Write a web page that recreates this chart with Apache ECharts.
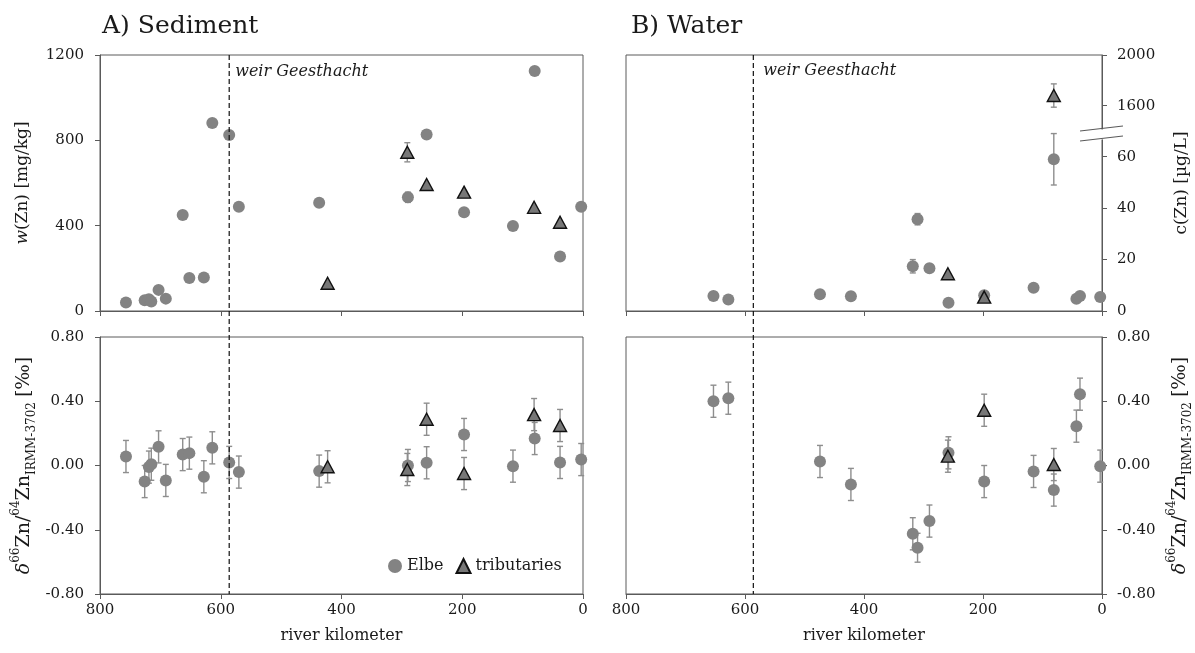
<!DOCTYPE html>
<html><head><meta charset="utf-8">
<script src="https://cdn.jsdelivr.net/npm/echarts@6/dist/echarts.min.js"></script>
<style>html,body{margin:0;padding:0;background:#fff}#c{width:1195px;height:653px}</style>
</head><body><div id="c"></div>
<script>
// ---------------- DATA ----------------
const weirKm = 586;
const weirLabel = 'weir Geesthacht';

// Sediment, Elbe (circles)
const sedElbeKm   = [757, 726, 719, 715, 703, 691, 663, 652, 628, 614, 586, 570, 437, 290, 259, 197, 116, 80, 38, 3];
const sedElbeW    = [40, 50, 55, 44, 99, 58, 450, 155, 157, 881, 825, 489, 507, 533, 827, 463, 398, 1125, 256, 489];
const sedElbeWErr = [0, 0, 0, 0, 0, 0, 0, 0, 0, 0, 0, 0, 0, 24, 0, 0, 0, 0, 0, 0];
const sedElbeD    = [0.056, -0.100, -0.010, 0.008, 0.116, -0.093, 0.068, 0.077, -0.070, 0.110, 0.019, -0.041, -0.035, 0.000, 0.017, 0.193, -0.004, 0.168, 0.019, 0.037];
const sedElbeDErr = [0.10, 0.10, 0.10, 0.10, 0.10, 0.10, 0.10, 0.10, 0.10, 0.10, 0.10, 0.10, 0.10, 0.10, 0.10, 0.10, 0.10, 0.10, 0.10, 0.10];

// Sediment, tributaries (triangles)
const sedTribKm   = [423, 291, 259, 197, 81, 38];
const sedTribW    = [130, 744, 593, 557, 486, 416];
const sedTribWErr = [0, 45, 0, 0, 0, 0];
const sedTribD    = [-0.008, -0.025, 0.288, -0.050, 0.317, 0.249];
const sedTribDErr = [0.10, 0.10, 0.10, 0.10, 0.10, 0.10];

// Water, Elbe (circles)
const watElbeKm   = [653, 628, 474, 422, 318, 310, 290, 258, 198, 115, 81, 43, 37, 3];
const watElbeC    = [5.8, 4.5, 6.5, 5.7, 17.4, 35.7, 16.6, 3.2, 6.1, 9.0, 59.0, 4.8, 5.8, 5.4];
const watElbeCErr = [0, 0, 0, 0, 2.6, 2.2, 1.5, 0, 0, 0, 10, 0, 0, 0];
const watElbeD    = [0.400, 0.419, 0.025, -0.118, -0.425, -0.512, -0.346, 0.079, -0.100, -0.037, -0.153, 0.245, 0.444, -0.004];
const watElbeDErr = [0.10, 0.10, 0.10, 0.10, 0.10, 0.09, 0.10, 0.10, 0.10, 0.10, 0.10, 0.10, 0.10, 0.10];

// Water, tributaries (triangles)
const watTribKm   = [259, 198, 81];
const watTribC    = [14.5, 5.4, 1680];
const watTribCErr = [0, 0, 92];
const watTribD    = [0.058, 0.344, 0.006];
const watTribDErr = [0.10, 0.10, 0.10];

// Axis ticks
const kmTicks        = [800, 600, 400, 200, 0];
const sedWTicks      = [0, 400, 800, 1200];
const deltaTicks     = [-0.8, -0.4, 0, 0.4, 0.8];
const watCTicksLow   = [0, 20, 40, 60];
const watCTicksHigh  = [1600, 2000];
const watCBreakLow   = 70;    // top of lower segment
const watCBreakHigh  = 1400;  // bottom of upper segment

// ---------------- STYLE ----------------
const FONT = 'DejaVu Serif';
const FRAME = '#5a5a5a';
const TXT = '#1a1a1a';
const GRAY = '#838383';
const TRI = '#777777';
const ERR = '#8e8e8e';

const zip = (xs, ys, es) => xs.map((x, i) => es ? [x, ys[i], es[i]] : [x, ys[i]]);

function errRender(params, api) {
  const x = api.value(0), y = api.value(1), e = api.value(2);
  if (!e) return null;
  const lo = api.coord([x, y - e]), hi = api.coord([x, y + e]);
  const w = 3;
  const st = { stroke: ERR, lineWidth: 1.4 };
  return { type: 'group', children: [
    { type: 'line', shape: { x1: lo[0], y1: lo[1], x2: hi[0], y2: hi[1] }, style: st },
    { type: 'line', shape: { x1: lo[0] - w, y1: lo[1], x2: lo[0] + w, y2: lo[1] }, style: st },
    { type: 'line', shape: { x1: hi[0] - w, y1: hi[1], x2: hi[0] + w, y2: hi[1] }, style: st }
  ]};
}

function errSeries(ax, data) {
  return { type: 'custom', xAxisIndex: ax, yAxisIndex: ax, renderItem: errRender,
           encode: { x: 0, y: 1 }, data: data, z: 2, silent: true, clip: false };
}
function circSeries(ax, data) {
  return { name: 'Elbe', type: 'scatter', xAxisIndex: ax, yAxisIndex: ax, data: data,
           symbol: 'circle', symbolSize: 12, itemStyle: { color: GRAY, opacity: 1 }, z: 3, silent: true };
}
function triSeries(ax, data) {
  return { name: 'tributaries', type: 'scatter', xAxisIndex: ax, yAxisIndex: ax, data: data,
           symbol: 'triangle', symbolSize: [13, 12],
           itemStyle: { color: TRI, borderColor: '#111', borderWidth: 1.4, opacity: 1 }, z: 4, silent: true };
}

const kmAxisBase = (grid, labels, name) => ({
  type: 'value', gridIndex: grid, min: 0, max: 800, interval: 200, inverse: true,
  axisLine: { show: true, onZero: false, lineStyle: { color: FRAME, width: 1 } },
  axisTick: { show: true, inside: false, length: 5, lineStyle: { color: FRAME } },
  axisLabel: { show: labels, margin: 9, fontFamily: FONT, fontSize: 15, color: TXT },
  splitLine: { show: false },
  name: name || '', nameLocation: 'middle', nameGap: 34,
  nameTextStyle: { fontFamily: FONT, fontSize: 16, color: TXT }
});

const nameRich = {
  n:   { fontFamily: FONT, fontSize: 17, lineHeight: 26, color: TXT },
  it:  { fontFamily: FONT, fontSize: 17, lineHeight: 26, fontStyle: 'italic', color: TXT },
  dn:  { fontFamily: FONT, fontSize: 19, lineHeight: 28, color: TXT },
  dit: { fontFamily: FONT, fontSize: 19, lineHeight: 28, fontStyle: 'italic', color: TXT },
  sup: { fontFamily: FONT, fontSize: 12, lineHeight: 14, verticalAlign: 'top', color: TXT },
  sub: { fontFamily: FONT, fontSize: 12, lineHeight: 14, verticalAlign: 'bottom', color: TXT },
  pm:  { fontFamily: FONT, fontSize: 19, lineHeight: 28, color: TXT, padding: [0, 0, 0, 5] }
};
const deltaName = '{dit|δ}{sup|66}{dn|Zn/}{sup|64}{dn|Zn}{sub|IRMM-3702}{pm|[‰]}';

const plain = v => String(v);
const two = v => v.toFixed(2);

const yAxisBase = (grid, pos, min, max, opts) => Object.assign({
  type: 'value', gridIndex: grid, position: pos, min: min, max: max,
  axisLine: { show: true, onZero: false, lineStyle: { color: FRAME, width: 1 } },
  axisTick: { show: true, inside: false, length: 5, lineStyle: { color: FRAME } },
  axisLabel: { show: true, margin: 16, fontFamily: FONT, fontSize: 15, color: TXT, formatter: plain },
  splitLine: { show: false },
  nameLocation: 'middle', nameRotate: 90, nameGap: 64,
  nameTextStyle: { fontFamily: FONT, fontSize: 17, color: TXT, rich: nameRich }
}, opts);

const frameGrid = (l, t, w, h, show) => ({ left: l, top: t, width: w, height: h, show: show,
  borderColor: FRAME, borderWidth: 1, backgroundColor: 'transparent', containLabel: false, outerBoundsMode: 'none' });

const grids = [
  frameGrid(100, 55, 483, 256, true),   // 0 sediment w
  frameGrid(100, 337, 483, 257, true),  // 1 sediment delta
  frameGrid(626, 337, 476, 257, true),  // 2 water delta
  frameGrid(626, 55, 476, 256, true),   // 3 water c frame
  frameGrid(626, 55, 476, 76, false),   // 4 water c upper
  frameGrid(626, 131, 476, 180, false)  // 5 water c lower
];

const xAxes = [
  kmAxisBase(0, false),
  kmAxisBase(1, true, 'river kilometer'),
  kmAxisBase(2, true, 'river kilometer'),
  Object.assign(kmAxisBase(3, false), { show: false }),
  Object.assign(kmAxisBase(4, false), { show: false }),
  kmAxisBase(5, false)
];

const yAxes = [
  yAxisBase(0, 'left', 0, 1200, { interval: 400, name: '{it|w}{n|(Zn) [mg/kg]}' }),
  yAxisBase(1, 'left', -0.8, 0.8, { interval: 0.4, name: deltaName, nameGap: 62,
    axisLabel: { show: true, margin: 16, fontFamily: FONT, fontSize: 15, color: TXT, formatter: two } }),
  yAxisBase(2, 'right', -0.8, 0.8, { interval: 0.4, name: deltaName, nameGap: 64,
    axisLabel: { show: true, margin: 15, fontFamily: FONT, fontSize: 15, color: TXT, formatter: two } }),
  yAxisBase(3, 'right', 0, 1, { name: '{n|c(Zn) [µg/L]}', nameGap: 67, axisLine: { show: false }, axisTick: { show: false },
    axisLabel: { show: false } }),
  yAxisBase(4, 'right', watCBreakHigh, 2000, {
    axisTick: { show: true, length: 5, lineStyle: { color: FRAME }, customValues: watCTicksHigh },
    axisLabel: { show: true, margin: 15, fontFamily: FONT, fontSize: 15, color: TXT, formatter: plain, customValues: watCTicksHigh } }),
  yAxisBase(5, 'right', 0, watCBreakLow, {
    axisTick: { show: true, length: 5, lineStyle: { color: FRAME }, customValues: watCTicksLow },
    axisLabel: { show: true, margin: 15, fontFamily: FONT, fontSize: 15, color: TXT, formatter: plain, customValues: watCTicksLow } })
];

// split water concentrations between the two segments of the broken axis
const splitHigh = (xs, ys, es, high) => zip(xs, ys, es).filter(d => high ? d[1] >= watCBreakHigh : d[1] <= watCBreakLow);

const series = [
  errSeries(0, zip(sedElbeKm, sedElbeW, sedElbeWErr)),
  errSeries(0, zip(sedTribKm, sedTribW, sedTribWErr)),
  circSeries(0, zip(sedElbeKm, sedElbeW)),
  triSeries(0, zip(sedTribKm, sedTribW)),

  errSeries(1, zip(sedElbeKm, sedElbeD, sedElbeDErr)),
  errSeries(1, zip(sedTribKm, sedTribD, sedTribDErr)),
  circSeries(1, zip(sedElbeKm, sedElbeD)),
  triSeries(1, zip(sedTribKm, sedTribD)),

  errSeries(2, zip(watElbeKm, watElbeD, watElbeDErr)),
  errSeries(2, zip(watTribKm, watTribD, watTribDErr)),
  circSeries(2, zip(watElbeKm, watElbeD)),
  triSeries(2, zip(watTribKm, watTribD)),

  errSeries(4, splitHigh(watElbeKm, watElbeC, watElbeCErr, true)),
  errSeries(4, splitHigh(watTribKm, watTribC, watTribCErr, true)),
  circSeries(4, splitHigh(watElbeKm, watElbeC, watElbeCErr, true).map(d => [d[0], d[1]])),
  triSeries(4, splitHigh(watTribKm, watTribC, watTribCErr, true).map(d => [d[0], d[1]])),

  errSeries(5, splitHigh(watElbeKm, watElbeC, watElbeCErr, false)),
  errSeries(5, splitHigh(watTribKm, watTribC, watTribCErr, false)),
  circSeries(5, splitHigh(watElbeKm, watElbeC, watElbeCErr, false).map(d => [d[0], d[1]])),
  triSeries(5, splitHigh(watTribKm, watTribC, watTribCErr, false).map(d => [d[0], d[1]]))
];

const chart = echarts.init(document.getElementById('c'), null, { renderer: 'canvas' });
chart.setOption({
  animation: false,
  backgroundColor: '#fff',
  title: [
    { text: 'A) Sediment', left: 102, top: 14, padding: 0, textStyle: { fontFamily: FONT, fontSize: 25, fontWeight: 'normal', color: TXT } },
    { text: 'B) Water', left: 631, top: 14, padding: 0, textStyle: { fontFamily: FONT, fontSize: 25, fontWeight: 'normal', color: TXT } }
  ],
  legend: {
    left: 388, top: 558, padding: 0, itemWidth: 14, itemHeight: 14, itemGap: 12, selectedMode: false,
    textStyle: { fontFamily: FONT, fontSize: 16, color: TXT },
    data: [{ name: 'Elbe', icon: 'circle' }, { name: 'tributaries', icon: 'triangle' }]
  },
  grid: grids, xAxis: xAxes, yAxis: yAxes, series: series
});

// weir line, label and axis break drawn from the library's own scales
const xL = chart.convertToPixel({ xAxisIndex: 0 }, weirKm);
const xR = chart.convertToPixel({ xAxisIndex: 2 }, weirKm);
const yTop = chart.convertToPixel({ yAxisIndex: 0 }, 1200);
const yBot = chart.convertToPixel({ yAxisIndex: 1 }, -0.8);
const yTopR = chart.convertToPixel({ yAxisIndex: 4 }, 2000);
const yBotR = chart.convertToPixel({ yAxisIndex: 2 }, -0.8);
const xAxisR = chart.convertToPixel({ xAxisIndex: 5 }, 0);
const yBreak = chart.convertToPixel({ yAxisIndex: 5 }, watCBreakLow);
const dash = { stroke: '#111', lineWidth: 1.2, lineDash: [5, 3] };
const labelStyle = { text: weirLabel, fontFamily: FONT, fontStyle: 'italic', fontSize: 16, fill: TXT, textVerticalAlign: 'middle' };

chart.setOption({
  graphic: [
    { type: 'line', shape: { x1: xL, y1: yTop, x2: xL, y2: yBot }, style: dash, z: 10 },
    { type: 'line', shape: { x1: xR, y1: yTopR, x2: xR, y2: yBotR }, style: dash, z: 10 },
    { type: 'text', x: xL + 6, y: yTop + 17, style: labelStyle, z: 10 },
    { type: 'text', x: xR + 10, y: yTopR + 16, style: labelStyle, z: 10 },
    { type: 'polygon', shape: { points: [[xAxisR - 22, yBreak + 1], [xAxisR + 21, yBreak - 4], [xAxisR + 21, yBreak + 6], [xAxisR - 22, yBreak + 11]] },
      style: { fill: '#fff' }, z: 20 },
    { type: 'line', shape: { x1: xAxisR - 22, y1: yBreak, x2: xAxisR + 21, y2: yBreak - 5 }, style: { stroke: FRAME, lineWidth: 1.2 }, z: 21 },
    { type: 'line', shape: { x1: xAxisR - 22, y1: yBreak + 10, x2: xAxisR + 21, y2: yBreak + 5 }, style: { stroke: FRAME, lineWidth: 1.2 }, z: 21 }
  ]
});
</script></body></html>
